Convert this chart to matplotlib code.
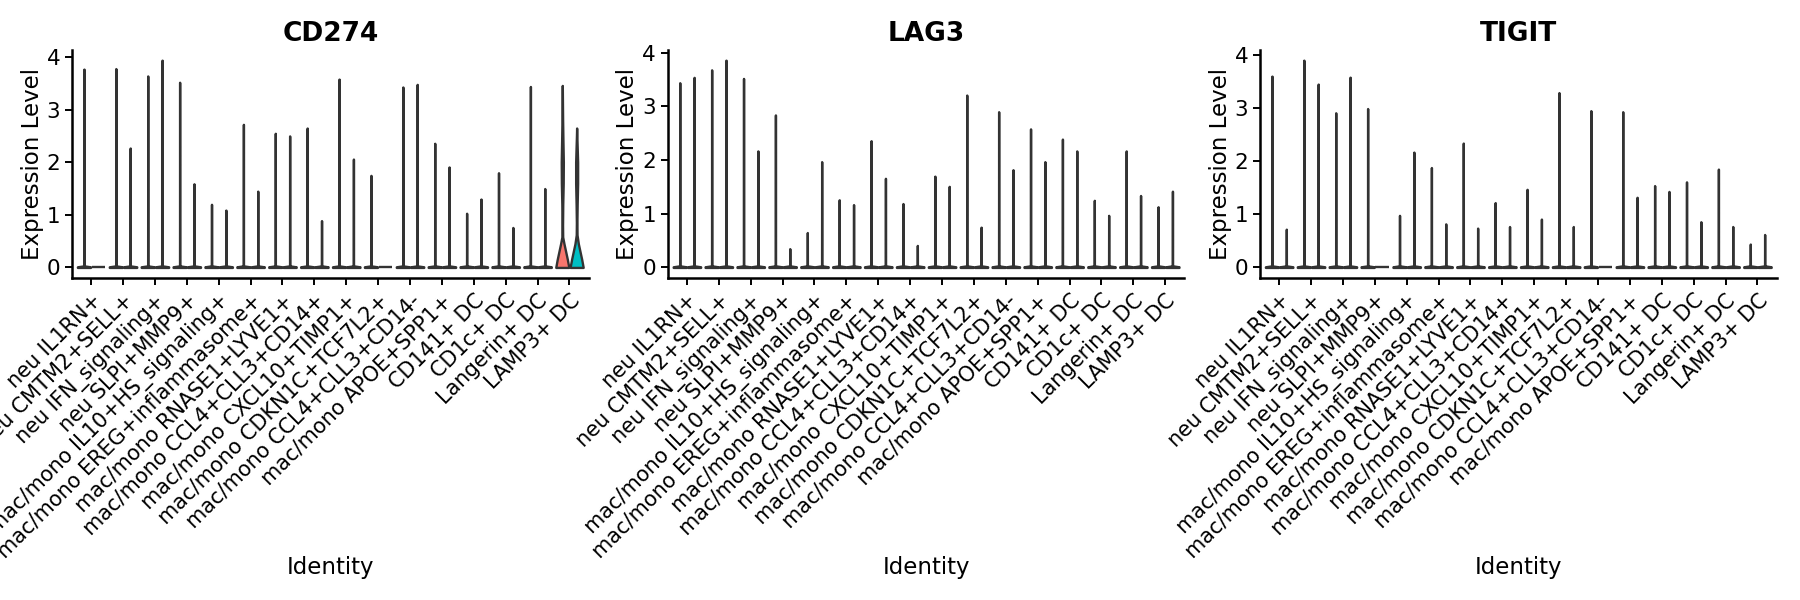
import numpy as np
import matplotlib
matplotlib.use("Agg")
from matplotlib import pyplot as plt

plt.rcParams['font.family'] = ['DejaVu Sans']

# cell identities (x axis)
identities = [
    "neu IL1RN+", "neu CMTM2+SELL+", "neu IFN_signaling+", "neu SLPI+MMP9+",
    "mac/mono IL10+HS_signaling+", "mac/mono EREG+inflammasome+",
    "mac/mono RNASE1+LYVE1+", "mac/mono CCL4+CLL3+CD14+",
    "mac/mono CXCL10+TIMP1+", "mac/mono CDKN1C+TCF7L2+",
    "mac/mono CCL4+CLL3+CD14-", "mac/mono APOE+SPP1+",
    "CD141+ DC", "CD1c+ DC", "Langerin+ DC", "LAMP3+ DC",
]
genes = ["CD274", "LAG3", "TIGIT"]

# max expression per identity, for the two groups (left / right violin); 0 = nothing above 0
cd274_left = [3.77, 3.78, 3.64, 3.52, 1.20, 2.72, 2.55, 2.65, 3.58, 1.75, 3.43, 2.36, 1.03, 1.80, 3.44, 3.46]
cd274_right = [0, 2.27, 3.94, 1.59, 1.09, 1.45, 2.50, 0.89, 2.06, 0, 3.48, 1.91, 1.30, 0.76, 1.50, 2.65]
lag3_left = [3.44, 3.68, 3.52, 2.84, 0.65, 1.26, 2.36, 1.19, 1.70, 3.21, 2.90, 2.58, 2.39, 1.25, 2.17, 1.13]
lag3_right = [3.54, 3.86, 2.17, 0.35, 1.97, 1.17, 1.66, 0.41, 1.51, 0.75, 1.82, 1.97, 2.17, 0.97, 1.34, 1.42]
tigit_left = [3.60, 3.90, 2.91, 2.99, 0.98, 1.88, 2.34, 1.22, 1.47, 3.29, 2.95, 2.93, 1.54, 1.61, 1.85, 0.44]
tigit_right = [0.72, 3.45, 3.58, 0, 2.17, 0.82, 0.74, 0.77, 0.91, 0.77, 0, 1.32, 1.43, 0.86, 0.77, 0.62]

# density shape (relative half-width) of the two CD274 LAMP3+ DC violins
lamp3_left_y = [0, 0.15, 0.3, 0.45, 0.58, 0.8, 1.2, 1.6, 2.0, 2.4, 2.8, 3.2, 3.46]
lamp3_left_w = [1.0, 0.78, 0.52, 0.26, 0.06, 0.04, 0.07, 0.14, 0.16, 0.1, 0.05, 0.02, 0.0]
lamp3_right_y = [0, 0.15, 0.3, 0.45, 0.62, 0.85, 1.2, 1.6, 2.0, 2.3, 2.5, 2.65]
lamp3_right_w = [1.0, 0.78, 0.52, 0.26, 0.06, 0.04, 0.08, 0.15, 0.15, 0.08, 0.03, 0.0]

colors = ["#F8766D", "#00BFC4"]
edge = "#333333"
offset = 0.225  # dodge offset of each violin
half = 0.205    # drawn half width of one violin


def thin_shape(top):
    if top <= 0:
        return [0, 0.012], [1.0, 1.0]
    return [0, 0.012, 0.03, top], [1.0, 1.0, 0.012, 0.0]


def draw_violin(ax, x, ys, ws, color):
    ys = np.array(ys)
    ws = np.array(ws) * half
    ax.fill_betweenx(ys, x - ws, x + ws, facecolor=color, edgecolor=edge, linewidth=1.7, joinstyle='round')


panel_data = {
    "CD274": (cd274_left, cd274_right),
    "LAG3": (lag3_left, lag3_right),
    "TIGIT": (tigit_left, tigit_right),
}
lefts = [0.040, 0.371, 0.700]

fig = plt.figure(figsize=(18, 6), dpi=100)
xpos = np.arange(1, len(identities) + 1)
for gene, left in zip(genes, lefts):
    ax = fig.add_axes([left, 0.537, 0.287, 0.380])
    lvals, rvals = panel_data[gene]
    for i, x in enumerate(xpos):
        for k, (vals, offs) in enumerate([(lvals, -offset), (rvals, offset)]):
            if gene == "CD274" and i == len(identities) - 1:
                ys, ws = (lamp3_left_y, lamp3_left_w) if k == 0 else (lamp3_right_y, lamp3_right_w)
            else:
                ys, ws = thin_shape(vals[i])
            draw_violin(ax, x + offs, ys, ws, colors[k])
    ax.set_xlim(0.4, len(identities) + 0.6)
    top = max(max(lvals), max(rvals))
    ax.set_ylim(-0.05 * top, top * 1.05)
    ax.set_yticks([0, 1, 2, 3, 4])
    ax.set_xticks(xpos)
    ax.set_xticklabels(identities, rotation=45, ha='right', rotation_mode='anchor', fontsize=15)
    ax.tick_params(axis='y', labelsize=15.5, width=1.4, length=5)
    ax.tick_params(axis='x', width=1.4, length=5, pad=4)
    for s in ['top', 'right']:
        ax.spines[s].set_visible(False)
    for s in ['left', 'bottom']:
        ax.spines[s].set_linewidth(1.8)
    ax.set_ylabel("Expression Level", fontsize=16.5, labelpad=2)
    ax.set_xlabel("Identity", fontsize=16.5)
    ax.xaxis.set_label_coords(0.5, -1.22)
    ax.set_title(gene, fontsize=19, fontweight='bold', pad=6)

fig.savefig("out.png", dpi=100)
